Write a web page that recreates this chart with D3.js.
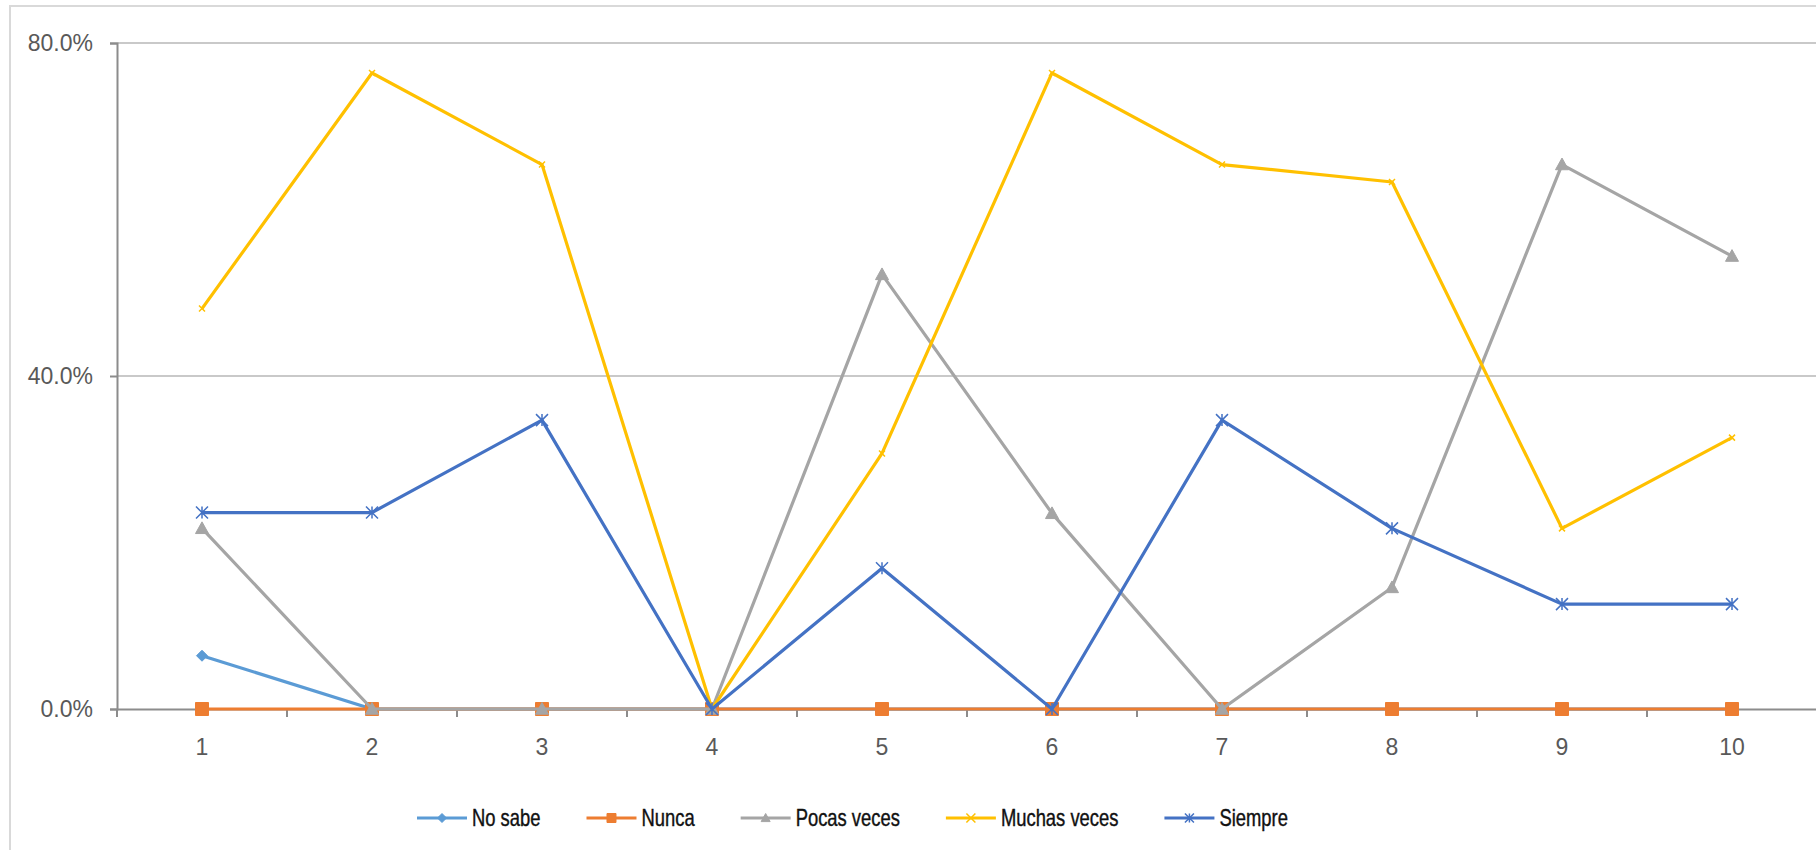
<!DOCTYPE html>
<html><head><meta charset="utf-8">
<script src="https://cdn.jsdelivr.net/npm/d3@7"></script>
<style>body{margin:0;background:#fff;}svg{display:block;}</style>
</head><body>
<svg id="c" width="1816" height="850"></svg>
<script>
const categories = ["1","2","3","4","5","6","7","8","9","10"];
const yTicks = [0, 0.4, 0.8];
const seriesNames = ["No sabe","Nunca","Pocas veces","Muchas veces","Siempre"];
const noSabe      = [0.064,0,0,0,0,0,0,0,0,0];
const nunca       = [0,0,0,0,0,0,0,0,0,0];
const pocasVeces  = [0.217,0,0,0,0.522,0.235,0,0.146,0.654,0.544];
const muchasVeces = [0.481,0.764,0.654,0,0.307,0.764,0.654,0.633,0.217,0.326];
const siempre     = [0.236,0.236,0.347,0,0.169,0,0.347,0.217,0.126,0.126];
const seriesValues = [noSabe, nunca, pocasVeces, muchasVeces, siempre];
const colors = ["#5B9BD5","#ED7D31","#A5A5A5","#FFC000","#4472C4"];
const markers = ["diamond","square","triangle","x","star"];

const svg = d3.select("#c");
const pL = 117, pR = 1817, pT = 43, pB = 709;

// outer frame
svg.append("rect").attr("x",10).attr("y",6).attr("width",1900).attr("height",1000)
  .attr("fill","#fff").attr("stroke","#d9d9d9").attr("stroke-width",2);

const x = d3.scaleBand().domain(categories).range([pL,pR]).padding(0);
const y = d3.scaleLinear().domain([0,0.8]).range([pB,pT]);

// gridlines
svg.append("g").selectAll("line").data(yTicks.filter(d=>d>0)).join("line")
  .attr("x1",pL).attr("x2",pR).attr("y1",d=>y(d)).attr("y2",d=>y(d))
  .attr("stroke","#c9c9c9").attr("stroke-width",2);

// y axis
const yAxis = svg.append("g").attr("transform",`translate(${pL},0)`)
  .call(d3.axisLeft(y).tickValues(yTicks).tickFormat(d3.format(".1%")).tickSize(7).tickPadding(17));
yAxis.select(".domain").attr("stroke","#8c8c8c").attr("stroke-width",2);
yAxis.selectAll(".tick line").attr("stroke","#8c8c8c").attr("stroke-width",2);
yAxis.selectAll("text").attr("font-family","Liberation Sans, Arial, sans-serif")
  .attr("font-size",23).attr("fill","#595959");

// x axis
const xAxis = svg.append("g").attr("transform",`translate(0,${pB})`)
  .call(d3.axisBottom(x).tickSize(0).tickPadding(30));
xAxis.select(".domain").attr("stroke","#8c8c8c").attr("stroke-width",2);
xAxis.selectAll("text").attr("font-family","Liberation Sans, Arial, sans-serif")
  .attr("font-size",23).attr("fill","#595959");
// boundary ticks
xAxis.append("g").selectAll("line").data(categories.concat(["end"])).join("line")
  .attr("x1",(d,i)=>pL + i*x.bandwidth()).attr("x2",(d,i)=>pL + i*x.bandwidth())
  .attr("y1",0).attr("y2",8).attr("stroke","#8c8c8c").attr("stroke-width",2);

function markerPath(type, s){
  const h = s/2;
  switch(type){
    case "diamond": return `M0,${-h}L${h},0L0,${h}L${-h},0Z`;
    case "square": return `M${-h},${-h}H${h}V${h}H${-h}Z`;
    case "triangle": return `M0,${-h}L${h},${h*0.8}L${-h},${h*0.8}Z`;
    case "x": return `M${-h},${-h}L${h},${h}M${-h},${h}L${h},${-h}`;
    case "star": return `M${-h},${-h}L${h},${h}M${-h},${h}L${h},${-h}M0,${-h}V${h}`;
  }
}
const mSize = [11,13,13,6,12];
const mStroke = [1,1,1,1.5,1.5];

const line = d3.line().x((d,i)=>x(categories[i])+x.bandwidth()/2).y(d=>y(d));
seriesValues.forEach((vals,si)=>{
  const g = svg.append("g");
  g.append("path").datum(vals).attr("d",line).attr("fill","none")
    .attr("stroke",colors[si]).attr("stroke-width",3.2).attr("stroke-linejoin","round");
  const filled = markers[si]!=="x" && markers[si]!=="star";
  g.selectAll("path.m").data(vals).join("path").attr("class","m")
    .attr("transform",(d,i)=>`translate(${x(categories[i])+x.bandwidth()/2},${y(d)})`)
    .attr("d",markerPath(markers[si],mSize[si]))
    .attr("fill",filled?colors[si]:"none")
    .attr("stroke",colors[si]).attr("stroke-width",mStroke[si]);
});

// legend
const lg = svg.append("g").attr("transform","translate(417,818)");
const sx = 0.8;
let cx = 0;
seriesNames.forEach((name,si)=>{
  const it = lg.append("g").attr("transform",`translate(${cx},0)`);
  it.append("line").attr("x1",0).attr("x2",50).attr("y1",0).attr("y2",0)
    .attr("stroke",colors[si]).attr("stroke-width",3);
  const filled = markers[si]!=="x" && markers[si]!=="star";
  it.append("path").attr("transform","translate(25,0)").attr("d",markerPath(markers[si],9))
    .attr("fill",filled?colors[si]:"none").attr("stroke",colors[si]).attr("stroke-width",filled?1:1.5);
  const t = it.append("text").attr("transform",`translate(55,0) scale(${sx},1)`).attr("dy","0.35em")
    .attr("font-family","Liberation Sans, Arial, sans-serif")
    .attr("font-size",23).attr("fill","#111").attr("stroke","#111").attr("stroke-width",0.4).text(name);
  cx += 55 + t.node().getComputedTextLength()*sx + 46;
});
</script>
</body></html>
